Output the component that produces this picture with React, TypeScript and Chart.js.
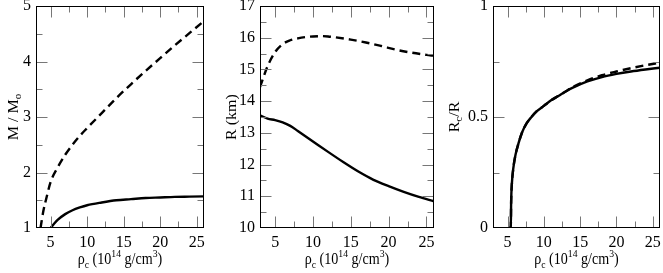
import React, { useEffect, useRef } from 'react';
import { Chart, registerables } from 'chart.js';

Chart.register(...registerables);

// ---------- data ----------
const X_MIN = 3;
const X_MAX = 26;
const X_MAJOR = [5, 10, 15, 20, 25];
const X_MINOR = [7.5, 12.5, 17.5, 22.5];

// Panel 1: M / Msun vs central density
const M_DASH_X = [3.62, 4, 4.5, 5, 6, 7, 8, 9, 10, 12, 14, 16, 18, 20, 22, 24, 26];
const M_DASH_Y = [1.0, 1.3, 1.58, 1.83, 2.1, 2.32, 2.5, 2.66, 2.8, 3.07, 3.34, 3.59, 3.83, 4.06, 4.29, 4.51, 4.73];
const M_SOLID_X = [5, 5.5, 6, 7, 8, 9, 10, 12, 14, 16, 18, 20, 22, 24, 26];
const M_SOLID_Y = [1.0, 1.08, 1.15, 1.25, 1.32, 1.37, 1.41, 1.46, 1.5, 1.52, 1.54, 1.55, 1.56, 1.565, 1.57];
const M_Y_MAJOR = [1, 2, 3, 4, 5];
const M_Y_MINOR = [1.5, 2.5, 3.5, 4.5];

// Panel 2: R (km)
const R_DASH_X = [3, 4, 5, 6, 7, 8, 9, 10, 11, 12, 13, 15, 17, 19, 21, 23, 25, 26];
const R_DASH_Y = [14.44, 15.1, 15.55, 15.8, 15.92, 15.98, 16.02, 16.04, 16.05, 16.04, 16.01, 15.94, 15.85, 15.74, 15.62, 15.53, 15.46, 15.43];
const R_SOLID_X = [3, 4, 5, 6, 7, 8, 10, 12, 14, 16, 18, 20, 22, 24, 26];
const R_SOLID_Y = [13.55, 13.45, 13.4, 13.33, 13.22, 13.06, 12.73, 12.4, 12.08, 11.78, 11.52, 11.32, 11.14, 10.98, 10.84];
const R_Y_MAJOR = [10, 11, 12, 13, 14, 15, 16, 17];
const R_Y_MINOR = [10.5, 11.5, 12.5, 13.5, 14.5, 15.5, 16.5];

// Panel 3: Rc / R
const C_SOLID_X = [5.2, 5.45, 5.5, 5.6, 5.8, 6.1, 6.5, 7, 7.6, 8.3, 9, 10, 11, 12, 13, 14, 16, 18, 20, 22, 24, 26];
const C_SOLID_Y = [0, 0, 0.12, 0.2, 0.27, 0.33, 0.38, 0.43, 0.47, 0.5, 0.525, 0.55, 0.575, 0.595, 0.615, 0.632, 0.66, 0.68, 0.694, 0.705, 0.714, 0.722];
const C_DASH_X = [5.2, 5.45, 5.5, 5.6, 5.8, 6.1, 6.5, 7, 7.6, 8.3, 9, 10, 11, 12, 13, 14, 16, 18, 20, 22, 24, 26];
const C_DASH_Y = [0, 0, 0.12, 0.2, 0.27, 0.33, 0.38, 0.43, 0.47, 0.5, 0.525, 0.55, 0.575, 0.595, 0.615, 0.635, 0.665, 0.688, 0.705, 0.72, 0.733, 0.745];
const C_Y_MAJOR = [0, 0.5, 1];
const C_Y_MINOR = [0.25, 0.75];

// ---------- helpers ----------
type Seg = { t: string; s?: 'sub' | 'sup' };
const FONT = '"Liberation Serif", "Times New Roman", serif';
const TICK_SIZE = 16;
const TITLE_SIZE = 16;
const TITLE_XSCALE = 0.88;

const X_TITLE: Seg[] = [
  { t: 'ρ' }, { t: 'c', s: 'sub' }, { t: ' (10' }, { t: '14', s: 'sup' },
  { t: ' g/cm' }, { t: '3', s: 'sup' }, { t: ')' },
];

function drawRich(ctx: CanvasRenderingContext2D, segs: Seg[], x: number, y: number, size: number, rotate: boolean) {
  ctx.save();
  ctx.translate(x, y);
  ctx.scale(TITLE_XSCALE, 1);
  if (rotate) ctx.rotate(-Math.PI / 2);
  const small = Math.round(size * 0.66);
  const fN = `${size}px ${FONT}`;
  const fS = `${small}px ${FONT}`;
  let total = 0;
  const widths = segs.map((sg) => {
    ctx.font = sg.s ? fS : fN;
    const w = ctx.measureText(sg.t).width;
    total += w;
    return w;
  });
  let cx = -total / 2;
  ctx.textBaseline = 'alphabetic';
  ctx.textAlign = 'left';
  ctx.fillStyle = '#000';
  const base = size * 0.33;
  segs.forEach((sg, i) => {
    ctx.font = sg.s ? fS : fN;
    let dy = base;
    if (sg.s === 'sub') dy += size * 0.22;
    if (sg.s === 'sup') dy -= size * 0.47;
    ctx.fillText(sg.t, cx, dy);
    cx += widths[i];
  });
  ctx.restore();
}

const toPts = (xs: number[], ys: number[]) => xs.map((x, i) => ({ x, y: ys[i] }));

interface PanelCfg {
  left: number;
  plotLeft: number;
  plotRight: number;
  yMin: number;
  yMax: number;
  yMajor: number[];
  yMinor: number[];
  yTitle: Seg[];
  yTitleX: number;
  solid: { x: number; y: number }[];
  dashed: { x: number; y: number }[];
}

const W = 221;
const H = 273;
const PLOT_TOP = 6;
const PLOT_BOTTOM = 228;

const PANELS: PanelCfg[] = [
  {
    left: 0, plotLeft: 36, plotRight: 204,
    yMin: 1, yMax: 5, yMajor: M_Y_MAJOR, yMinor: M_Y_MINOR,
    yTitle: [{ t: 'M / M' }, { t: 'o', s: 'sub' }], yTitleX: 13,
    solid: toPts(M_SOLID_X, M_SOLID_Y), dashed: toPts(M_DASH_X, M_DASH_Y),
  },
  {
    left: 221, plotLeft: 260, plotRight: 434,
    yMin: 10, yMax: 17, yMajor: R_Y_MAJOR, yMinor: R_Y_MINOR,
    yTitle: [{ t: 'R (km)' }], yTitleX: 10,
    solid: toPts(R_SOLID_X, R_SOLID_Y), dashed: toPts(R_DASH_X, R_DASH_Y),
  },
  {
    left: 442, plotLeft: 493, plotRight: 660,
    yMin: 0, yMax: 1, yMajor: C_Y_MAJOR, yMinor: C_Y_MINOR,
    yTitle: [{ t: 'R' }, { t: 'c', s: 'sub' }, { t: '/R' }], yTitleX: 12,
    solid: toPts(C_SOLID_X, C_SOLID_Y), dashed: toPts(C_DASH_X, C_DASH_Y),
  },
];

function makePlugin(cfg: PanelCfg) {
  return {
    id: 'frameTicks',
    afterDraw(chart: any) {
      const { ctx, chartArea: a, scales } = chart;
      const xs = scales.x;
      const ys = scales.y;
      const L = Math.round(a.left) + 0.5;
      const R = Math.round(a.right) - 0.5;
      const T = Math.round(a.top) + 0.5;
      const B = Math.round(a.bottom) - 0.5;
      const clamp = (p: number, lo: number, hi: number) => Math.min(Math.max(p, lo), hi);
      ctx.save();
      ctx.lineWidth = 1;
      ctx.strokeStyle = '#777';
      const maj = 11;
      const min = 6;
      const xt = (v: number, len: number) => {
        const p = clamp(Math.round(xs.getPixelForValue(v)) + 0.5, L, R);
        ctx.beginPath();
        ctx.moveTo(p, B); ctx.lineTo(p, B - len);
        ctx.moveTo(p, T); ctx.lineTo(p, T + len);
        ctx.stroke();
      };
      const yt = (v: number, len: number) => {
        const p = clamp(Math.round(ys.getPixelForValue(v)) + 0.5, T, B);
        if (p === T || p === B) return;
        ctx.beginPath();
        ctx.moveTo(L, p); ctx.lineTo(L + len, p);
        ctx.moveTo(R, p); ctx.lineTo(R - len, p);
        ctx.stroke();
      };
      X_MAJOR.forEach((v) => xt(v, maj));
      X_MINOR.forEach((v) => xt(v, min));
      cfg.yMajor.forEach((v) => yt(v, maj));
      cfg.yMinor.forEach((v) => yt(v, min));
      ctx.strokeStyle = '#000';
      ctx.strokeRect(L, T, R - L, B - T);
      ctx.restore();

      drawRich(ctx, X_TITLE, (a.left + a.right) / 2, 259, TITLE_SIZE, false);
      drawRich(ctx, cfg.yTitle, cfg.yTitleX, (a.top + a.bottom) / 2, TITLE_SIZE, true);
    },
  };
}

function Panel({ cfg }: { cfg: PanelCfg }) {
  const ref = useRef<HTMLCanvasElement>(null);
  useEffect(() => {
    if (!ref.current) return;
    const yWidth = cfg.plotLeft - cfg.left;
    const padRight = cfg.left + W - cfg.plotRight;
    const lineBase = {
      borderColor: '#000',
      borderWidth: 2.4,
      pointRadius: 0,
      fill: false,
      cubicInterpolationMode: 'monotone' as const,
    };
    const chart = new Chart(ref.current, {
      type: 'line',
      data: {
        datasets: [
          { ...lineBase, data: cfg.dashed, borderDash: [8, 5] },
          { ...lineBase, data: cfg.solid },
        ],
      },
      options: {
        animation: false,
        responsive: false,
        devicePixelRatio: 1,
        layout: { padding: { left: 0, right: padRight, top: PLOT_TOP, bottom: 0 } },
        plugins: { legend: { display: false }, tooltip: { enabled: false } },
        events: [],
        scales: {
          x: {
            type: 'linear',
            min: X_MIN,
            max: X_MAX,
            grid: { display: false, drawTicks: false },
            border: { display: false },
            ticks: {
              autoSkip: false,
              maxRotation: 0,
              padding: 5,
              color: '#000',
              font: { family: FONT, size: TICK_SIZE },
              callback: (v: any) => String(v),
            },
            afterBuildTicks: (s: any) => { s.ticks = X_MAJOR.map((v) => ({ value: v })); },
            afterFit: (s: any) => { s.height = H - PLOT_BOTTOM; s.paddingLeft = 0; s.paddingRight = 0; },
          },
          y: {
            type: 'linear',
            min: cfg.yMin,
            max: cfg.yMax,
            grid: { display: false, drawTicks: false },
            border: { display: false },
            ticks: {
              autoSkip: false,
              padding: 5,
              color: '#000',
              font: { family: FONT, size: TICK_SIZE },
              callback: (v: any) => String(v),
            },
            afterBuildTicks: (s: any) => { s.ticks = cfg.yMajor.map((v) => ({ value: v })); },
            afterFit: (s: any) => { s.width = yWidth; s.paddingTop = 0; s.paddingBottom = 0; },
          },
        },
      },
      plugins: [makePlugin(cfg)],
    } as any);
    return () => chart.destroy();
  }, [cfg]);
  return (
    <canvas
      ref={ref}
      width={W}
      height={H}
      style={{ position: 'absolute', left: cfg.left, top: 0, width: W, height: H }}
    />
  );
}

export default function App() {
  useEffect(() => {
    document.body.style.margin = '0';
  }, []);
  return (
    <div style={{ position: 'absolute', left: 0, top: 0, width: 663, height: 273, background: '#fff', overflow: 'hidden' }}>
      {PANELS.map((p, i) => (
        <Panel key={i} cfg={p} />
      ))}
    </div>
  );
}
